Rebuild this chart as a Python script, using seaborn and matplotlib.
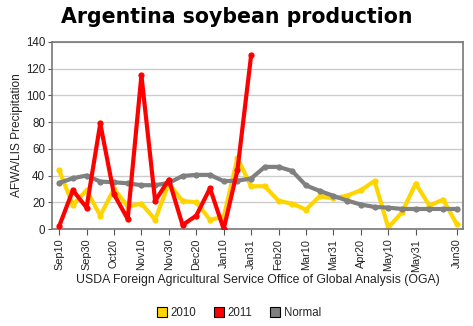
import numpy as np
import pandas as pd
import matplotlib
matplotlib.use("Agg")
import matplotlib.pyplot as plt
import seaborn as sns
from matplotlib.patches import Patch

dekads = ["Sep10", "Sep20", "Sep30", "Oct10", "Oct20", "Oct31", "Nov10", "Nov20", "Nov30",
          "Dec10", "Dec20", "Dec31", "Jan10", "Jan20", "Jan31", "Feb10", "Feb20", "Feb28",
          "Mar10", "Mar20", "Mar31", "Apr10", "Apr20", "Apr30", "May10", "May20", "May31",
          "Jun10", "Jun20", "Jun30"]
tick_labels = ["Sep10", "Sep30", "Oct20", "Nov10", "Nov30", "Dec20", "Jan10", "Jan31",
               "Feb20", "Mar10", "Mar31", "Apr20", "May10", "May31", "Jun30"]

y2010 = [44, 18, 29, 10, 30, 17, 19, 7, 34, 21, 20, 7, 9, 53, 32, 32, 21, 19, 14.5,
         24.5, 23, 25, 29, 36, 1, 12.5, 34, 17.5, 22, 3.5]
y2011 = [2, 29, 16, 79, 26, 7.5, 115, 21, 37, 3, 10, 30.5, 0, 44, 130]
normal = [34.5, 38, 40, 35.5, 35, 34.2, 32.8, 32.8, 34.5, 39.7, 40.5, 40.5, 35.8, 36.2,
          37.8, 46.5, 46.5, 43.4, 32.6, 28.5, 24.8, 21.3, 18.3, 16.5, 16, 15, 15, 15, 15, 15]

series_names = ["2010", "2011", "Normal"]
colors = ["#FFD500", "#FF0000", "#808080"]

rows = []
for name, vals in zip(series_names, [y2010, y2011, normal]):
    for i, v in enumerate(vals):
        rows.append({"idx": i, "value": v, "series": name})
df = pd.DataFrame(rows)

sns.set_style("white")
plt.rcParams["font.family"] = ["Liberation Sans", "DejaVu Sans"]

fig = plt.figure(figsize=(4.73, 3.26), dpi=100)
ax = fig.add_axes([52 / 473, 1 - 229 / 326, (463 - 52) / 473, (229 - 42) / 326])

sns.lineplot(data=df, x="idx", y="value", hue="series", hue_order=series_names,
             palette=dict(zip(series_names, colors)), marker="o", markersize=4.5,
             markeredgewidth=0, linewidth=3.0, ax=ax, legend=False, sort=False)
for line, z in zip(ax.get_lines(), [2, 4, 3]):
    line.set_zorder(z)

ax.set_xlim(-0.52, 29.45)
ax.set_ylim(0, 140)
ax.set_yticks(np.arange(0, 141, 20))
ax.tick_params(axis="y", labelsize=8.3, length=3, color="#555555", labelcolor="#222222", pad=2, left=True)
tick_pos = [dekads.index(t) for t in tick_labels]
ax.set_xticks(tick_pos)
ax.set_xticklabels(tick_labels, rotation=90)
ax.tick_params(axis="x", labelsize=7.8, length=4, color="#555555", labelcolor="#222222", pad=3, bottom=True)
ax.yaxis.grid(True, color="#cccccc", linewidth=1)
ax.set_axisbelow(True)
for s in ax.spines.values():
    s.set_color("#777777")
    s.set_linewidth(1.2)

ax.set_xlabel("USDA Foreign Agricultural Service Office of Global Analysis (OGA)",
              fontsize=8.8, color="#222222", labelpad=2)
ax.set_ylabel("AFWA/LIS Precipitation", fontsize=8.6, color="#222222", labelpad=2)

fig.text(237 / 473, 1 - 17 / 326, "Argentina soybean production", ha="center", va="center",
         fontsize=14.8, fontweight="bold", color="black", family="DejaVu Sans")

handles = [Patch(facecolor=c, edgecolor="black", linewidth=0.8) for c in colors]
fig.legend(handles, series_names, loc="center", bbox_to_anchor=(239 / 473, 1 - 313 / 326),
           ncol=3, frameon=False, fontsize=8.3, handlelength=0.9, handleheight=0.9,
           handletextpad=0.3, columnspacing=1.5)

fig.savefig("out.png", dpi=100)
